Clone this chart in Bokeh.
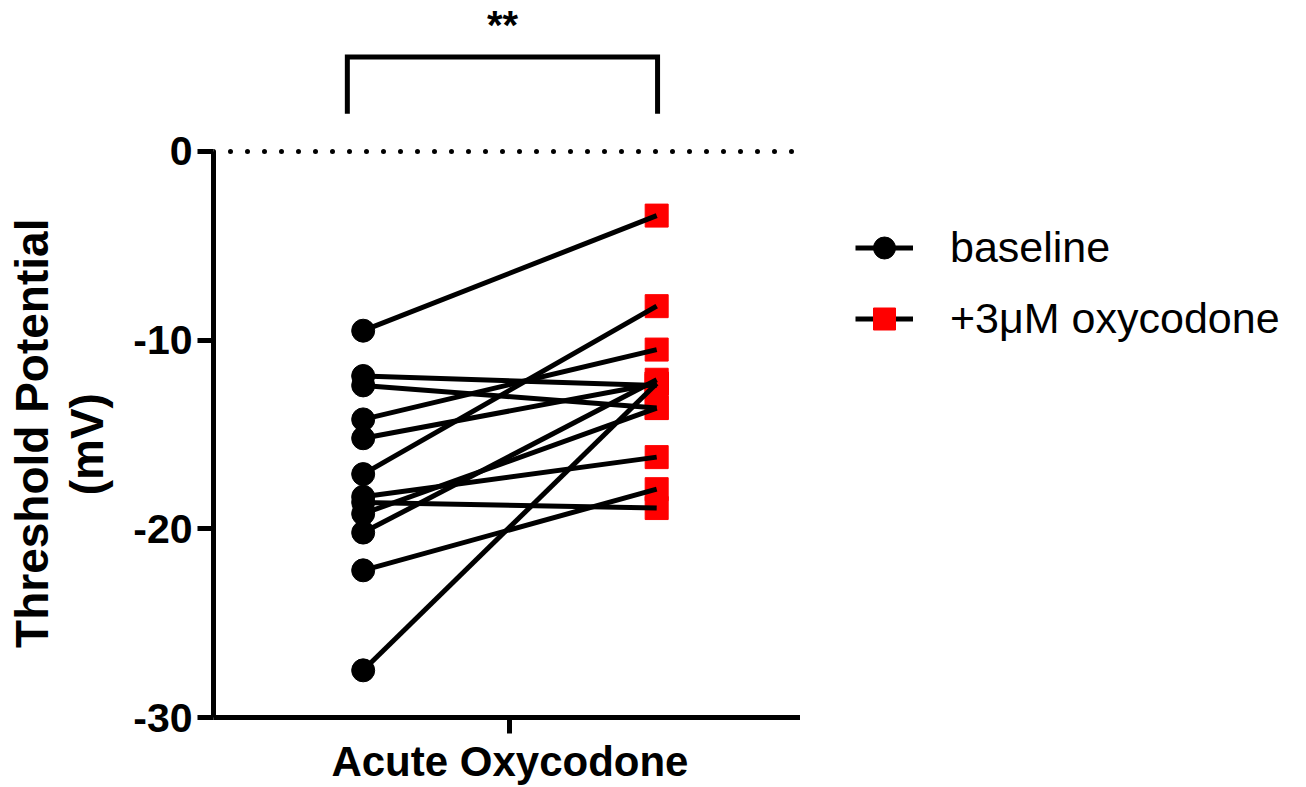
import math
from bokeh.plotting import figure
from bokeh.layouts import row
from bokeh.models import ColumnDataSource, Range1d, FixedTicker, Span, Legend, LegendItem, Label
from bokeh.core.properties import value
from bokeh.embed import file_html
from bokeh.resources import INLINE

# ---- data ----
conditions = ["baseline", "+3\u03bcM oxycodone"]
group_label = "Acute Oxycodone"
y_title = ["Threshold Potential", "(mV)"]
baseline = [-9.5, -11.9, -12.4, -14.2, -15.2, -17.1, -18.3, -18.6, -19.2, -20.2, -22.2, -27.5]
oxycodone = [-3.4, -12.4, -13.6, -10.5, -12.3, -8.2, -16.2, -18.9, -13.6, -12.1, -17.9, -12.3]
y_ticks = [0, -10, -20, -30]
y_tick_labels = ["0", "-10", "-20", "-30"]
significance = "**"

X_BASE, X_OXY = 1.0, 2.0
FONT = "Liberation Sans"
H = 787
LABEL_W, MAIN_W, LEG_W = 120, 680, 506


def bare(fig):
    fig.outline_line_color = None
    fig.xgrid.visible = False
    fig.ygrid.visible = False
    return fig


# ---- left strip: y-axis title ----
lab = bare(figure(width=LABEL_W, height=H, x_range=Range1d(0, LABEL_W), y_range=Range1d(0, H),
                  output_backend="svg", toolbar_location=None,
                  x_axis_location=None, y_axis_location=None,
                  min_border_left=0, min_border_right=0, min_border_top=0, min_border_bottom=0))
lab.text(x=[31, 86], y=[H - 475, H - 487], text=y_title, angle=math.pi / 2,
         text_align="center", text_baseline="middle", text_font=value(FONT),
         text_font_style="bold", text_font_size="46px", text_color="black")

# ---- main plot ----
src = ColumnDataSource(dict(
    x0=[X_BASE] * len(baseline), y0=baseline,
    x1=[X_OXY] * len(oxycodone), y1=oxycodone,
))
p = bare(figure(width=MAIN_W, height=H, x_range=Range1d(0.49, 2.49), y_range=Range1d(-30, 8.0),
                output_backend="svg", toolbar_location=None,
                min_border_left=93, min_border_right=0, min_border_top=0, min_border_bottom=70))

p.add_layout(Span(location=0, dimension="width", line_color="black",
                  line_width=5, line_dash="0 17", line_cap="round"))

p.scatter(x="x1", y="y1", source=src, marker="square", size=23,
          fill_color="#FF0000", line_color="#FF0000")
p.segment(x0="x0", y0="y0", x1="x1", y1="y1", source=src,
          line_color="black", line_width=5)
p.scatter(x="x0", y="y0", source=src, marker="circle", size=23,
          fill_color="black", line_color="black")

# significance bracket
bx_l, bx_r = 0.946, 2.003
p.line(x=[bx_l, bx_l, bx_r, bx_r], y=[2.0, 5.0, 5.0, 2.0],
       line_color="black", line_width=5, line_join="miter")
p.add_layout(Label(x=1.475, y=6.7, text=significance, text_align="center",
                   text_baseline="middle", text_font=FONT, text_font_style="bold",
                   text_font_size="40px", text_color="black"))

ya = p.yaxis[0]
ya.ticker = FixedTicker(ticks=y_ticks)
ya.major_label_overrides = {t: s for t, s in zip(y_ticks, y_tick_labels)}
ya.bounds = (-30, 0)
ya.axis_line_width = 5
ya.major_tick_line_width = 5
ya.major_tick_out = 16
ya.major_tick_in = 0
ya.minor_tick_line_color = None
ya.major_label_text_font = FONT
ya.major_label_text_font_style = "bold"
ya.major_label_text_font_size = "41px"
ya.major_label_text_color = "black"
ya.major_label_standoff = 5

xa = p.xaxis[0]
xa.ticker = FixedTicker(ticks=[1.5])
xa.major_label_overrides = {1.5: group_label}
xa.axis_line_width = 5
xa.major_tick_line_width = 5
xa.major_tick_out = 16
xa.major_tick_in = 0
xa.minor_tick_line_color = None
xa.major_label_text_font = FONT
xa.major_label_text_font_style = "bold"
xa.major_label_text_font_size = "42px"
xa.major_label_text_color = "black"
xa.major_label_standoff = 4

# ---- right strip: legend ----
leg = bare(figure(width=LEG_W, height=H, x_range=Range1d(0, 10), y_range=Range1d(0, 10),
                  output_backend="svg", toolbar_location=None,
                  x_axis_location=None, y_axis_location=None,
                  min_border_left=0, min_border_right=0, min_border_top=0, min_border_bottom=0))
off = dict(x=[-50, -40], y=[-50, -50])
lb_line = leg.line(line_color="black", line_width=5, **off)
lb_mark = leg.scatter(marker="circle", size=20, fill_color="black", line_color="black", **off)
lo_line = leg.line(line_color="black", line_width=5, **off)
lo_mark = leg.scatter(marker="square", size=23, fill_color="#FF0000", line_color="#FF0000", **off)

legend = Legend(items=[LegendItem(label=conditions[0], renderers=[lb_line, lb_mark]),
                       LegendItem(label=conditions[1], renderers=[lo_line, lo_mark])],
                location=(55, 371))
legend.label_text_font = FONT
legend.label_text_font_size = "43px"
legend.label_text_color = "black"
legend.glyph_width = 58
legend.glyph_height = 55
legend.label_standoff = 37
legend.spacing = 16
legend.padding = 0
legend.margin = 0
legend.border_line_color = None
legend.background_fill_alpha = 0
leg.add_layout(legend)

layout = row(lab, p, leg, spacing=0)
open("out.html", "w").write(file_html(layout, INLINE))
